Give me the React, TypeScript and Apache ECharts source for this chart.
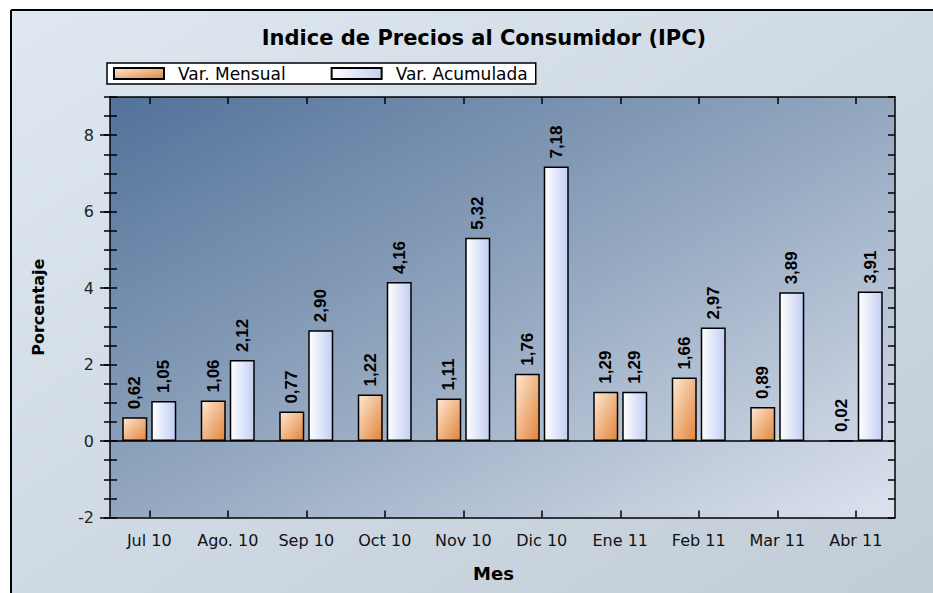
import React, { useEffect, useRef } from "react";
import * as echarts from "echarts";

const categories = ["Jul 10", "Ago. 10", "Sep 10", "Oct 10", "Nov 10", "Dic 10", "Ene 11", "Feb 11", "Mar 11", "Abr 11"];
const mensual = [0.62, 1.06, 0.77, 1.22, 1.11, 1.76, 1.29, 1.66, 0.89, 0.02];
const acumulada = [1.05, 2.12, 2.9, 4.16, 5.32, 7.18, 1.29, 2.97, 3.89, 3.91];
const yTickLabels = [-2, 0, 2, 4, 6, 8];
const seriesNames = ["Var. Mensual", "Var. Acumulada"];

const fmt = (v: number) => v.toFixed(2).replace(".", ",");

export default function App() {
  const ref = useRef<HTMLDivElement>(null);
  useEffect(() => {
    document.body.style.margin = "0";
    if (!ref.current) return;
    const chart = echarts.init(ref.current, null, { renderer: "svg" });
    const sans = "'DejaVu Sans', Verdana, sans-serif";
    const narrow = "'Liberation Sans', Arial, sans-serif";
    const orange = new echarts.graphic.LinearGradient(0, 0, 1, 1, [
      { offset: 0, color: "#fde8d3" },
      { offset: 1, color: "#e2843a" },
    ]);
    const blue = new echarts.graphic.LinearGradient(0, 0, 1, 0, [
      { offset: 0, color: "#ffffff" },
      { offset: 1, color: "#c2cef3" },
    ]);
    const label = {
      show: true,
      position: "top" as const,
      rotate: 90,
      align: "left" as const,
      verticalAlign: "middle" as const,
      distance: 8,
      color: "#000",
      fontWeight: "bold" as const,
      fontSize: 17,
      fontFamily: narrow,
      formatter: (p: any) => fmt(p.value),
    };
    const minorAxis = (pos: "left" | "right", inside: boolean, len: number, line: boolean) => ({
      type: "value" as const,
      position: pos,
      min: -2,
      max: 9,
      interval: 0.5,
      axisLine: { show: line, lineStyle: { color: "#000", width: 1.5 } },
      axisTick: { show: true, inside, length: len, lineStyle: { color: "#000", width: 1.5 } },
      axisLabel: { show: false },
      splitLine: { show: false },
    });
    chart.setOption({
      animation: false,
      backgroundColor: "#ffffff",
      title: {
        text: "Indice de Precios al Consumidor (IPC)",
        left: 479,
        top: 22,
        textAlign: "center",
        textStyle: { fontFamily: sans, fontWeight: "bold", fontSize: 21, color: "#000" },
      },
      legend: {
        data: seriesNames,
        left: 107,
        top: 63,
        orient: "horizontal",
        backgroundColor: "#ffffff",
        borderColor: "#000",
        borderWidth: 1.5,
        borderRadius: 0,
        padding: [2, 8, 2, 6],
        itemGap: 45,
        itemWidth: 50,
        itemHeight: 11,
        icon: "rect",
        textStyle: { fontFamily: sans, fontSize: 17, color: "#000", padding: [0, 0, 0, 9] },
      },
      graphic: [
        {
          type: "rect",
          silent: true,
          z: -10,
          shape: { x: 11, y: 10, width: 922, height: 583 },
          style: {
            fill: new echarts.graphic.LinearGradient(0, 0, 1, 1, [
              { offset: 0, color: "#dfe8f1" },
              { offset: 1, color: "#c1ccd7" },
            ]),
          },
        },
        { type: "line", silent: true, shape: { x1: 11, y1: 10, x2: 11, y2: 593 }, style: { stroke: "#000", lineWidth: 2 } },
        { type: "line", silent: true, shape: { x1: 11, y1: 10, x2: 933, y2: 10 }, style: { stroke: "#000", lineWidth: 2 } },
      ],
      grid: {
        left: 110,
        right: 38,
        top: 97,
        bottom: 75.5,
        show: true,
        borderWidth: 0,
        backgroundColor: new echarts.graphic.LinearGradient(0, 0, 1, 1, [
          { offset: 0, color: "#52729a" },
          { offset: 0.5, color: "#93a7bf" },
          { offset: 1, color: "#dde2ee" },
        ]),
      },
      xAxis: [
        {
          type: "category",
          data: categories,
          position: "bottom",
          name: "Mes",
          nameLocation: "middle",
          nameGap: 47,
          nameTextStyle: { fontFamily: sans, fontWeight: "bold", fontSize: 18, color: "#000", padding: [0, 18, 0, 0] },
          axisLine: { show: true, onZero: false, lineStyle: { color: "#000", width: 1.5 } },
          axisTick: { show: true, inside: true, alignWithLabel: true, length: 7, lineStyle: { color: "#000", width: 1.5 } },
          axisLabel: { fontFamily: sans, fontSize: 16, color: "#111", margin: 15, interval: 0, hideOverlap: false },
          splitLine: { show: false },
        },
        {
          type: "category",
          data: categories,
          position: "top",
          axisLine: { show: true, onZero: false, lineStyle: { color: "#000", width: 1.5 } },
          axisTick: { show: true, inside: true, alignWithLabel: true, length: 7, lineStyle: { color: "#000", width: 1.5 } },
          axisLabel: { show: false },
          splitLine: { show: false },
        },
      ],
      yAxis: [
        {
          type: "value",
          position: "left",
          min: -2,
          max: 9,
          interval: 2,
          name: "Porcentaje",
          nameLocation: "middle",
          nameGap: 64,
          nameTextStyle: { fontFamily: sans, fontWeight: "bold", fontSize: 16, color: "#000" },
          axisLine: { show: true, lineStyle: { color: "#000", width: 1.5 } },
          axisTick: { show: true, inside: false, length: 10, customValues: yTickLabels, lineStyle: { color: "#000", width: 1.5 } },
          axisLabel: { fontFamily: sans, fontSize: 16, color: "#222", margin: 16, customValues: yTickLabels },
          splitLine: { show: false },
        },
        minorAxis("left", true, 7, false),
        minorAxis("left", false, 6, false),
        minorAxis("right", true, 7, true),
      ],
      series: [
        {
          name: seriesNames[0],
          type: "bar",
          xAxisIndex: 0,
          yAxisIndex: 0,
          data: mensual,
          barWidth: 25,
          barGap: "16%",
          itemStyle: { color: orange, borderColor: "#000", borderWidth: 1.5 },
          label,
          markLine: {
            silent: true,
            symbol: "none",
            label: { show: false },
            lineStyle: { color: "#000", width: 1.5, type: "solid" },
            data: [{ yAxis: 0 }],
          },
        },
        {
          name: seriesNames[1],
          type: "bar",
          xAxisIndex: 0,
          yAxisIndex: 0,
          data: acumulada,
          barWidth: 25,
          barGap: "16%",
          itemStyle: { color: blue, borderColor: "#000", borderWidth: 1.5 },
          label,
        },
      ],
    });
    return () => chart.dispose();
  }, []);
  return <div ref={ref} style={{ width: 933, height: 593 }} />;
}
